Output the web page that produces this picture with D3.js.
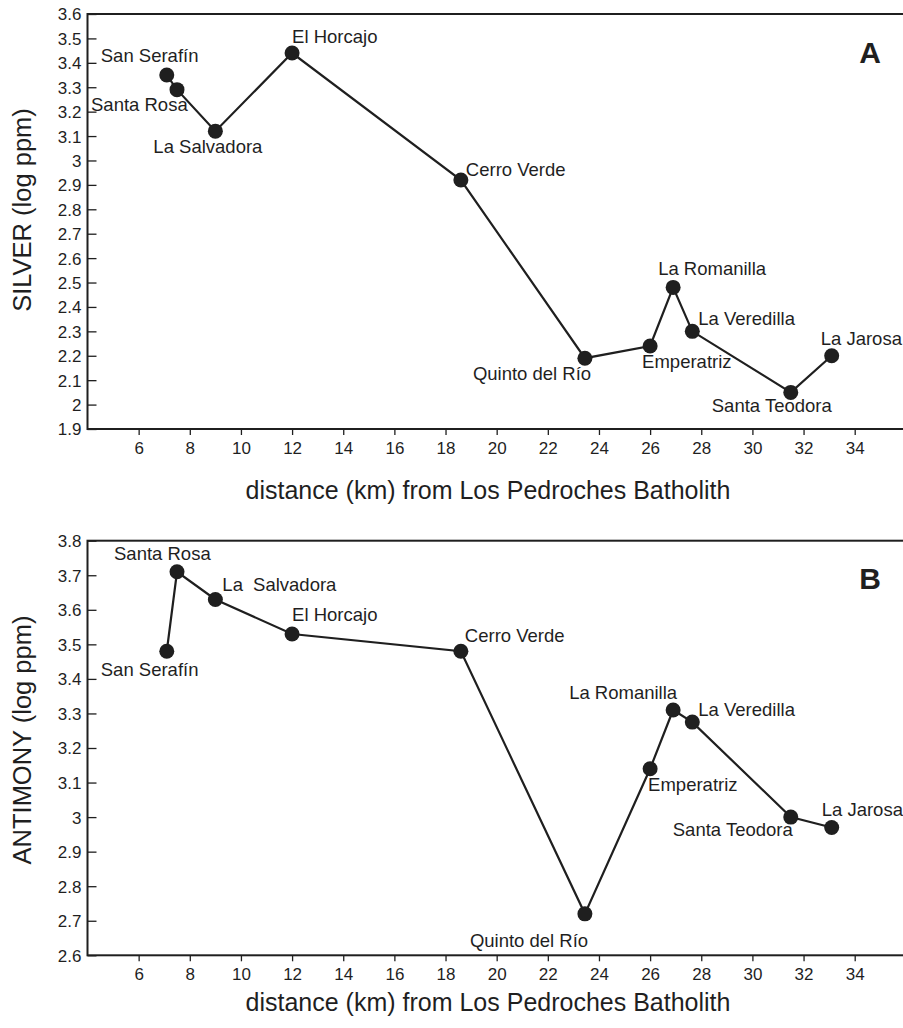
<!DOCTYPE html>
<html><head><meta charset="utf-8">
<script src="https://cdn.jsdelivr.net/npm/d3@7"></script>
<style>
html,body{margin:0;padding:0;background:#fff;}
svg{display:block;font-family:"Liberation Sans",Arial,Helvetica,sans-serif;}
</style></head>
<body><svg id="c" width="903" height="1028"></svg>
<script>
// ---- data ----
const mines = ["San Serafín","Santa Rosa","La Salvadora","El Horcajo","Cerro Verde","Quinto del Río","Emperatriz","La Romanilla","La Veredilla","Santa Teodora","La Jarosa"];
const distance = [7.1, 7.5, 9.0, 12.0, 18.6, 23.45, 26.0, 26.9, 27.65, 31.5, 33.1];
const silver   = [3.35, 3.29, 3.12, 3.44, 2.92, 2.19, 2.24, 2.48, 2.30, 2.05, 2.20];
const antimony = [3.48, 3.71, 3.63, 3.53, 3.48, 2.72, 3.14, 3.31, 3.275, 3.00, 2.97];
const xTicks = [6,8,10,12,14,16,18,20,22,24,26,28,30,32,34];
const silverTicks = [1.9,2,2.1,2.2,2.3,2.4,2.5,2.6,2.7,2.8,2.9,3,3.1,3.2,3.3,3.4,3.5,3.6];
const antimonyTicks = [2.6,2.7,2.8,2.9,3,3.1,3.2,3.3,3.4,3.5,3.6,3.7,3.8];

// ---- label placement (pixel offsets from point, style only) ----
const silverLabelOff = [[-66,-13],[-86,21],[-62,22],[0,-10],[5,-4],[-112,22],[-8,22],[-15,-12],[6,-6],[-79,20],[-11,-11]];
const antimonyLabelOff = [[-66,25],[-63,-12],[7,-8],[0,-13],[4,-9],[-115,33],[-2,22],[-104,-11],[6,-6],[-118,19],[-10,-11]];

const svg = d3.select("#c");
const ink = "#1f1f1f";
const left = 87.5, rightEdge = 912;
const x = d3.scaleLinear().domain([4,34]).range([left, 854.7]);

function panel(cfg){
  const g = svg.append("g");
  const y = d3.scaleLinear().domain(cfg.domain).range([cfg.bottom, cfg.top]);
  g.append("rect").attr("x",left).attr("y",cfg.top).attr("width",rightEdge-left).attr("height",cfg.bottom-cfg.top)
    .attr("fill","none").attr("stroke",ink).attr("stroke-width",2);
  const ya = g.append("g").attr("transform",`translate(${left},0)`)
    .call(d3.axisRight(y).tickValues(cfg.ticks).tickSize(9).tickFormat(d3.format("~g")));
  ya.select(".domain").remove();
  ya.selectAll(".tick line").attr("stroke",ink).attr("stroke-width",1.3);
  ya.selectAll(".tick text").attr("x",-6).attr("text-anchor","end").attr("dy","0.35em")
    .attr("font-size",17).attr("fill",ink).attr("font-family",null);
  const xa = g.append("g").attr("transform",`translate(0,${cfg.bottom})`)
    .call(d3.axisBottom(x).tickValues(xTicks).tickSize(6).tickPadding(6).tickFormat(d3.format("d")));
  xa.select(".domain").remove();
  xa.selectAll(".tick line").attr("stroke",ink).attr("stroke-width",1.3);
  xa.selectAll(".tick text").attr("y",25).attr("dy",0).attr("font-size",17).attr("fill",ink).attr("font-family",null);
  g.append("text").attr("x",488).attr("y",cfg.xTitleY).attr("text-anchor","middle")
    .attr("font-size",25).attr("fill",ink).text("distance (km) from Los Pedroches Batholith");
  g.append("text").attr("transform",`translate(31,${cfg.yTitleC}) rotate(-90)`).attr("text-anchor","middle")
    .attr("font-size",25.5).attr("fill",ink).text(cfg.yTitle);
  g.append("text").attr("x",870).attr("y",cfg.letterY).attr("text-anchor","middle")
    .attr("font-size",30).attr("font-weight","bold").attr("fill",ink).text(cfg.letter);
  const pts = distance.map((d,i)=>({d, v:cfg.values[i], name:mines[i], off:cfg.off[i]}));
  g.append("path").datum(pts).attr("fill","none").attr("stroke",ink).attr("stroke-width",2.2)
    .attr("d", d3.line().x(p=>x(p.d)).y(p=>y(p.v)));
  g.selectAll("circle.pt").data(pts).join("circle").attr("class","pt")
    .attr("cx",p=>x(p.d)).attr("cy",p=>y(p.v)).attr("r",7.5).attr("fill",ink);
  g.selectAll("text.lbl").data(pts).join("text").attr("class","lbl")
    .attr("x",p=>x(p.d)+p.off[0]).attr("y",p=>y(p.v)+p.off[1])
    .attr("font-size",18.5).attr("fill",ink)
    .attr("word-spacing", p=> (cfg.letter==="B" && p.name==="La Salvadora") ? 5 : 0)
    .text(p=>p.name);
}

panel({domain:[1.9,3.6], top:14, bottom:429, ticks:silverTicks, values:silver, off:silverLabelOff,
  xTitleY:499, yTitle:"SILVER (log ppm)", yTitleC:210, letter:"A", letterY:63});
panel({domain:[2.6,3.8], top:540.7, bottom:955.3, ticks:antimonyTicks, values:antimony, off:antimonyLabelOff,
  xTitleY:1011, yTitle:"ANTIMONY (log ppm)", yTitleC:740, letter:"B", letterY:589});
</script></body></html>
